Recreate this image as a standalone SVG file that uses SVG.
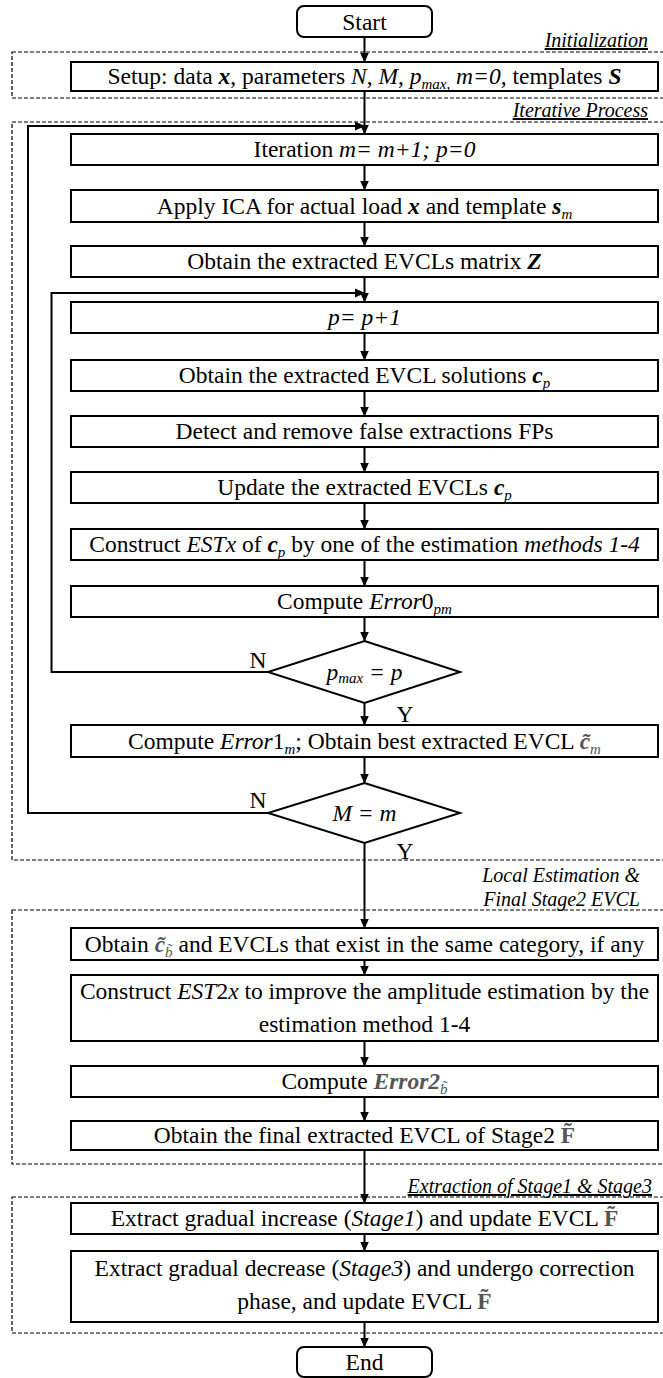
<svg xmlns="http://www.w3.org/2000/svg" width="663" height="1378" viewBox="0 0 663 1378">
<defs>
<style>
.box{fill:#fff;stroke:#000;stroke-width:2}
.dash{fill:none;stroke:#000;stroke-width:1.2;stroke-dasharray:4 2}
.t{font-family:"Liberation Serif","Times New Roman",serif;font-size:23.5px;fill:#000;text-anchor:middle}
.lbl{font-family:"Liberation Serif","Times New Roman",serif;font-size:20px;font-style:italic;fill:#000;text-anchor:end}
.u{text-decoration:underline}
.i{font-style:italic}
.bi{font-style:italic;font-weight:bold}
.s{font-size:15px}
.g{fill:#555}
.conn line,.conn polyline{stroke:#000;stroke-width:2;fill:none}
</style>
<marker id="ah" markerWidth="10" markerHeight="10" refX="9.5" refY="5" orient="auto" markerUnits="userSpaceOnUse">
<path d="M0,0.5 L10,5 L0,9.5 z" fill="#000"/>
</marker>
</defs>
<rect width="663" height="1378" fill="#fff"/>

<g id="groups">
<rect class="dash" x="12" y="52" width="654" height="46"/>
<text class="lbl u" x="648" y="47">Initialization</text>
<rect class="dash" x="12" y="122" width="654" height="738"/>
<text class="lbl u" x="648" y="117">Iterative Process</text>
<rect class="dash" x="12" y="910" width="654" height="254"/>
<text class="lbl" x="640" y="882">Local Estimation &amp;</text>
<text class="lbl" x="640" y="906">Final Stage2 EVCL</text>
<rect class="dash" x="12" y="1197" width="654" height="136"/>
<text class="lbl u" x="652" y="1193">Extraction of Stage1 &amp; Stage3</text>
</g>

<g class="conn" id="connectors">
<line x1="364.5" y1="37" x2="364.5" y2="62" marker-end="url(#ah)"/>
<line x1="364.5" y1="91" x2="364.5" y2="134" marker-end="url(#ah)"/>
<polyline points="268,813 28,813 28,126 364.5,126" marker-end="url(#ah)"/>
<line x1="364.5" y1="165" x2="364.5" y2="190" marker-end="url(#ah)"/>
<line x1="364.5" y1="222" x2="364.5" y2="246" marker-end="url(#ah)"/>
<line x1="364.5" y1="277" x2="364.5" y2="302" marker-end="url(#ah)"/>
<polyline points="268,672 51.5,672 51.5,293 364.5,293" marker-end="url(#ah)"/>
<line x1="364.5" y1="333" x2="364.5" y2="360" marker-end="url(#ah)"/>
<line x1="364.5" y1="391" x2="364.5" y2="416" marker-end="url(#ah)"/>
<line x1="364.5" y1="447" x2="364.5" y2="472" marker-end="url(#ah)"/>
<line x1="364.5" y1="503" x2="364.5" y2="529" marker-end="url(#ah)"/>
<line x1="364.5" y1="560" x2="364.5" y2="586" marker-end="url(#ah)"/>
<line x1="364.5" y1="617" x2="364.5" y2="641" marker-end="url(#ah)"/>
<line x1="364.5" y1="703" x2="364.5" y2="725" marker-end="url(#ah)"/>
<line x1="364.5" y1="757" x2="364.5" y2="783" marker-end="url(#ah)"/>
<line x1="364.5" y1="843" x2="364.5" y2="928" marker-end="url(#ah)"/>
<line x1="364.5" y1="960" x2="364.5" y2="975" marker-end="url(#ah)"/>
<line x1="364.5" y1="1041" x2="364.5" y2="1066" marker-end="url(#ah)"/>
<line x1="364.5" y1="1097" x2="364.5" y2="1121" marker-end="url(#ah)"/>
<line x1="364.5" y1="1150" x2="364.5" y2="1203" marker-end="url(#ah)"/>
<line x1="364.5" y1="1234" x2="364.5" y2="1251" marker-end="url(#ah)"/>
<line x1="364.5" y1="1322" x2="364.5" y2="1347" marker-end="url(#ah)"/>
<text class="t" x="258" y="668">N</text>
<text class="t" x="405" y="722">Y</text>
<text class="t" x="258" y="808">N</text>
<text class="t" x="405" y="859">Y</text>
</g>

<g id="start">
<rect class="box" x="297" y="6" width="135" height="31" rx="7"/>
<text class="t" x="364.5" y="29.5">Start</text>
</g>
<g id="setup">
<rect class="box" x="71" y="62" width="587" height="29"/>
<text class="t" x="364.5" y="84">Setup: data <tspan class="bi">x</tspan>, parameters <tspan class="i">N</tspan>, <tspan class="i">M</tspan>, <tspan class="i">p</tspan><tspan class="i s" dy="5">max,</tspan><tspan class="i" dy="-5"> m=0,</tspan> templates <tspan class="bi">S</tspan></text>
</g>
<g id="iteration">
<rect class="box" x="71" y="134" width="587" height="31"/>
<text class="t" x="364.5" y="157">Iteration <tspan class="i">m= m+1; p=0</tspan></text>
</g>
<g id="ica">
<rect class="box" x="71" y="190" width="587" height="32"/>
<text class="t" x="364.5" y="213.5">Apply ICA for actual load <tspan class="bi">x</tspan> and template <tspan class="bi">s</tspan><tspan class="i s" dy="5">m</tspan></text>
</g>
<g id="matrixZ">
<rect class="box" x="71" y="246" width="587" height="31"/>
<text class="t" x="364.5" y="269">Obtain the extracted EVCLs matrix <tspan class="bi">Z</tspan></text>
</g>
<g id="pinc">
<rect class="box" x="71" y="302" width="587" height="31"/>
<text class="t" x="364.5" y="325"><tspan class="i">p= p+1</tspan></text>
</g>
<g id="solutions">
<rect class="box" x="71" y="360" width="587" height="31"/>
<text class="t" x="364.5" y="383">Obtain the extracted EVCL solutions <tspan class="bi">c</tspan><tspan class="i s" dy="5">p</tspan></text>
</g>
<g id="detect">
<rect class="box" x="71" y="416" width="587" height="31"/>
<text class="t" x="364.5" y="439">Detect and remove false extractions FPs</text>
</g>
<g id="update">
<rect class="box" x="71" y="472" width="587" height="31"/>
<text class="t" x="364.5" y="495">Update the extracted EVCLs <tspan class="bi">c</tspan><tspan class="i s" dy="5">p</tspan></text>
</g>
<g id="construct">
<rect class="box" x="71" y="529" width="587" height="31"/>
<text class="t" x="364.5" y="552">Construct <tspan class="i">ESTx</tspan> of <tspan class="bi">c</tspan><tspan class="i s" dy="5">p</tspan><tspan dy="-5"> by one of the estimation </tspan><tspan class="i">methods 1-4</tspan></text>
</g>
<g id="error0">
<rect class="box" x="71" y="586" width="587" height="31"/>
<text class="t" x="364.5" y="609">Compute <tspan class="i">Error</tspan>0<tspan class="i s" dy="5">pm</tspan></text>
</g>
<g id="decisionP">
<polygon class="box" points="364.5,641 460,672 364.5,703 268,672"/>
<text class="t" x="364.5" y="680"><tspan class="i">p</tspan><tspan class="i s" dy="3">max</tspan><tspan class="i" dy="-3"> = p</tspan></text>
</g>
<g id="error1">
<rect class="box" x="71" y="725" width="587" height="32"/>
<text class="t" x="364.5" y="748.5">Compute <tspan class="i">Error</tspan>1<tspan class="i s" dy="5">m</tspan><tspan dy="-5">; Obtain best extracted EVCL  </tspan><tspan class="bi g">c̃</tspan><tspan class="i s g" dy="5">m</tspan></text>
</g>
<g id="decisionM">
<polygon class="box" points="364.5,783 460,813 364.5,843 268,813"/>
<text class="t" x="364.5" y="821"><tspan class="i">M = m</tspan></text>
</g>
<g id="category">
<rect class="box" x="71" y="928" width="587" height="32"/>
<text class="t" x="364.5" y="951.5">Obtain  <tspan class="bi g">c̃</tspan><tspan class="i s g" dy="5">b̃</tspan><tspan dy="-5"> and EVCLs that exist in the same category, if any</tspan></text>
</g>
<g id="est2x">
<rect class="box" x="71" y="975" width="587" height="66"/>
<text class="t" x="364.5" y="999">Construct <tspan class="i">EST</tspan>2<tspan class="i">x</tspan> to improve the amplitude estimation by the</text>
<text class="t" x="364.5" y="1032">estimation method 1-4</text>
</g>
<g id="error2">
<rect class="box" x="71" y="1066" width="587" height="31"/>
<text class="t" x="364.5" y="1089">Compute  <tspan class="bi g">Error2</tspan><tspan class="i s g" dy="5">b̃</tspan></text>
</g>
<g id="finalF">
<rect class="box" x="71" y="1121" width="587" height="29"/>
<text class="t" x="364.5" y="1143">Obtain the final extracted EVCL of Stage2  <tspan font-weight="bold" class="g">F̃</tspan></text>
</g>
<g id="stage1">
<rect class="box" x="71" y="1203" width="587" height="31"/>
<text class="t" x="364.5" y="1226">Extract gradual increase (<tspan class="i">Stage1</tspan>) and update EVCL  <tspan font-weight="bold" class="g">F̃</tspan></text>
</g>
<g id="stage3">
<rect class="box" x="71" y="1251" width="587" height="71"/>
<text class="t" x="364.5" y="1276">Extract gradual decrease (<tspan class="i">Stage3</tspan>) and undergo correction</text>
<text class="t" x="364.5" y="1309">phase, and update EVCL  <tspan font-weight="bold" class="g">F̃</tspan></text>
</g>
<g id="end">
<rect class="box" x="297" y="1347" width="135" height="30" rx="7"/>
<text class="t" x="364.5" y="1369.5">End</text>
</g>
</svg>
